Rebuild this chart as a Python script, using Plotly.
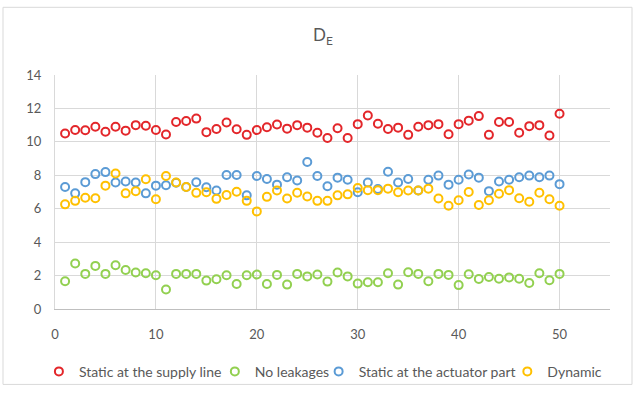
import plotly.graph_objects as go

# Sample index (1..50)
samples = list(range(1, 51))

# D_E values per scenario
static_supply = [10.5, 10.71, 10.69, 10.9, 10.6, 10.9, 10.67, 11.0, 10.96, 10.71,
                 10.44, 11.19, 11.25, 11.39, 10.58, 10.77, 11.16, 10.75, 10.42, 10.71,
                 10.87, 11.04, 10.79, 11.0, 10.85, 10.54, 10.23, 10.81, 10.23, 11.06,
                 11.58, 11.08, 10.77, 10.85, 10.42, 10.9, 11.0, 11.06, 10.46, 11.06,
                 11.27, 11.54, 10.42, 11.19, 11.19, 10.54, 10.94, 11.0, 10.38, 11.68]

no_leakages = [1.66, 2.72, 2.1, 2.58, 2.1, 2.62, 2.33, 2.18, 2.14, 2.02,
               1.17, 2.1, 2.1, 2.1, 1.7, 1.78, 2.02, 1.5, 2.02, 2.06,
               1.5, 2.04, 1.46, 2.1, 1.95, 2.06, 1.64, 2.18, 1.95, 1.52,
               1.6, 1.6, 2.14, 1.46, 2.2, 2.1, 1.66, 2.1, 2.04, 1.43,
               2.08, 1.79, 1.91, 1.81, 1.89, 1.81, 1.56, 2.14, 1.72, 2.1]

static_actuator = [7.3, 6.92, 7.59, 8.07, 8.19, 7.57, 7.63, 7.57, 6.92, 7.38,
                   7.4, 7.55, 7.3, 7.58, 7.28, 7.09, 8.02, 8.02, 6.8, 7.96,
                   7.78, 7.44, 7.88, 7.69, 8.79, 7.96, 7.34, 7.86, 7.73, 6.99,
                   7.57, 7.18, 8.21, 7.57, 7.78, 7.09, 7.73, 7.98, 7.44, 7.73,
                   8.05, 7.86, 7.05, 7.63, 7.73, 7.88, 7.98, 7.88, 7.98, 7.47]

dynamic = [6.26, 6.47, 6.66, 6.63, 7.38, 8.11, 6.92, 7.05, 7.76, 6.57,
           7.96, 7.57, 7.3, 6.95, 6.99, 6.59, 6.82, 7.01, 6.47, 5.84,
           6.71, 7.09, 6.61, 6.96, 6.73, 6.47, 6.47, 6.8, 6.86, 7.24,
           7.11, 7.11, 7.2, 6.99, 7.09, 7.09, 7.2, 6.61, 6.18, 6.51,
           7.0, 6.22, 6.51, 6.9, 7.11, 6.63, 6.42, 6.96, 6.57, 6.18]

series_names = ["Static at the supply line", "No leakages",
                "Static at the actuator part", "Dynamic"]
series_values = [static_supply, no_leakages, static_actuator, dynamic]
series_colors = ["#e3262a", "#92d050", "#5b9bd5", "#ffc000"]

FONT = "Lato, 'Open Sans', sans-serif"
GREY = "#595959"

# one legend box per series so the entries sit in a single compact row
legend_ids = ["legend", "legend2", "legend3", "legend4"]
legend_x = [-0.029, 0.288, 0.475, 0.815]

fig = go.Figure()
for name, vals, col, lid in zip(series_names, series_values, series_colors, legend_ids):
    fig.add_trace(go.Scatter(
        x=samples, y=vals, mode="markers", name=name, legend=lid,
        marker=dict(symbol="circle-open", size=8, color=col, line=dict(width=2, color=col)),
    ))

legend_style = dict(orientation="h", xanchor="left", y=-0.2, yanchor="top",
                    bgcolor="rgba(0,0,0,0)", itemwidth=30,
                    font=dict(family=FONT, size=14, color=GREY))

fig.update_layout(
    width=637, height=400,
    margin=dict(l=55, r=27, t=75, b=83),
    paper_bgcolor="white", plot_bgcolor="white",
    font=dict(family=FONT, size=13, color=GREY),
    title=dict(text="D<sub>E</sub>", x=0.507, xref="container", xanchor="center",
               y=0.912, yref="container", yanchor="middle",
               font=dict(family=FONT, size=17, color=GREY)),
    showlegend=True,
    **{lid: dict(x=lx, **legend_style) for lid, lx in zip(legend_ids, legend_x)},
)
fig.update_xaxes(range=[0, 55], tick0=0, dtick=10, showgrid=True, gridcolor="#d9d9d9",
                 gridwidth=1, zeroline=False, showline=True, linecolor="#bfbfbf", linewidth=1,
                 ticks="", ticklabelstandoff=13, tickfont=dict(size=13, color=GREY))
fig.update_yaxes(range=[0, 14], tick0=0, dtick=2, showgrid=True, gridcolor="#d9d9d9",
                 gridwidth=1, zeroline=False, showline=True, linecolor="#d9d9d9", linewidth=1,
                 ticks="", ticklabelstandoff=10, tickfont=dict(size=13, color=GREY))

# light frame around the whole chart
fig.add_shape(type="rect", xref="paper", yref="paper",
              x0=(3 - 55) / 555, x1=(632 - 55) / 555,
              y0=(317 - 395) / 242, y1=(317 - 5) / 242,
              line=dict(color="#d9d9d9", width=1), layer="below")

fig.write_html("out.html")
